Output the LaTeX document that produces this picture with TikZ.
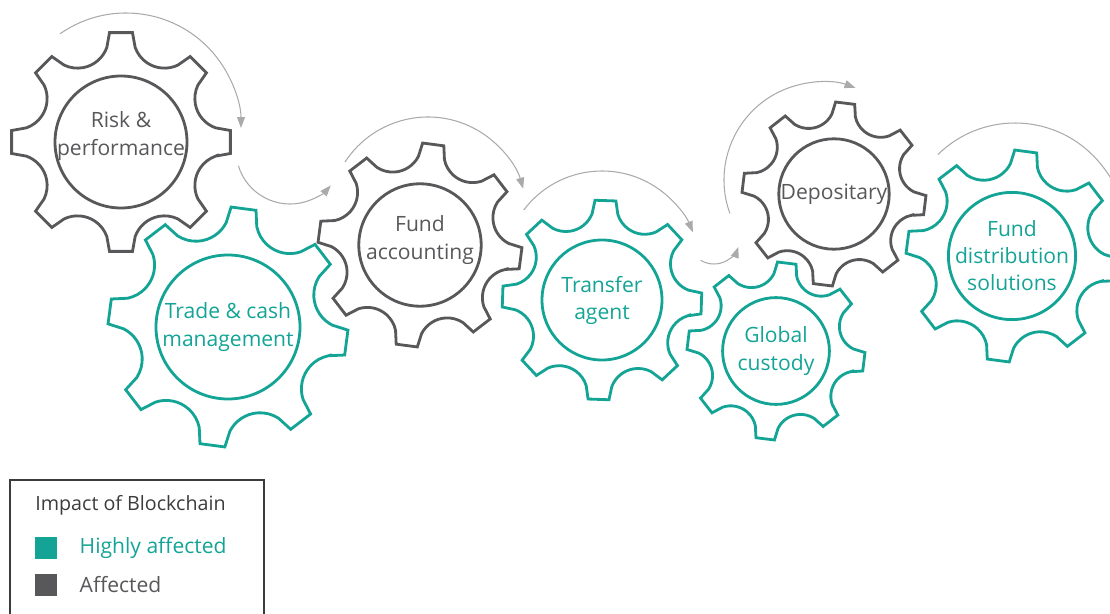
\documentclass[tikz,border=0pt]{standalone}
\usepackage{fontspec}
\setmainfont{Open Sans}
\usepackage{xcolor}
\usepackage{tikz}
\usetikzlibrary{arrows.meta, positioning}

\definecolor{hiTeal}{RGB}{20,164,150}
\definecolor{midGray}{RGB}{88,88,91}
\definecolor{turnGray}{RGB}{170,170,172}
\definecolor{boxGray}{RGB}{60,60,62}

% gear: [label options], name, centre, outer radius, turn (cw), colour, label
\newcommand{\gear}[7][]{%
	\node[hub, text=#6, #1] (#2) at (#3) {#7};
	\draw[rim, draw=#6] (#3) circle[radius={0.6*#4}];
	\begin{scope}[shift={(#3)}, rotate=-#5]
		\draw[rim, draw=#6] ({-8.5}:{0.87*#4})
			foreach \k in {0,...,7} {
				-- ({45*\k-6}:{#4}) -- ({45*\k+6}:{#4}) -- ({45*\k+8.5}:{0.87*#4})
				arc[start angle={45*\k+250.7}, end angle={45*\k+154.3}, radius={0.2824*#4}]
			} -- cycle;
	\end{scope}}

\begin{document}
\begin{tikzpicture}[x=0.02cm, y=0.02cm,
			rim/.style={line width=1.6pt},
			hub/.style={align=center, font=\fontsize{12}{15.4}\selectfont},
			turn/.style={draw=turnGray, line width=0.6pt,
				-{Triangle[length=0.22cm, width=0.16cm]}},
			swatch/.style={minimum size=0.44cm, inner sep=0pt},
			key/.style={inner sep=0pt, anchor=west,
				font=\fontsize{12}{14}\selectfont}]
	\useasboundingbox (0,0) rectangle (1110,613);
	\clip (0,0) rectangle (1110,613);
	
	% the gears
	\gear[yshift=0.12cm]{Risk}{121,471}{110}{0}{midGray}{Risk \&\\performance}
	\gear{Trade}{228,286}{120}{7.5}{hiTeal}{Trade \& cash\\management}
	\gear[yshift=0.1cm]{Accounting}{420,368}{102}{7.5}{midGray}{Fund\\accounting}
	\gear{Transfer}{602,313}{100}{2}{hiTeal}{Transfer\\agent}
	\gear{Depositary}{834,419}{92}{7}{midGray}{Depositary}
	\gear{Custody}{776,262}{89}{7}{hiTeal}{Global\\custody}
	\gear{Distribution}{1012,357}{106}{7.5}{hiTeal}{Fund\\distribution\\solutions}
	
	% turning arrows
	\coordinate (t1) at (126,485);
	\coordinate (t2) at (290,463);
	\coordinate (t3) at (428,397);
	\coordinate (t4) at (602,344);
	\coordinate (t5) at (714,375);
	\coordinate (t6) at (822,433);
	\coordinate (t7) at (1015,380);
	\draw[turn] ([shift={(125:115)}]t1) arc[start angle=125, end angle=0, radius=115];
	\draw[turn] ([shift={(197:54)}]t2) arc[start angle=197, end angle=319, radius=54];
	\draw[turn] ([shift={(147:99)}]t3) arc[start angle=147, end angle=16, radius=99];
	\draw[turn] ([shift={(143:98)}]t4) arc[start angle=143, end angle=22, radius=98];
	\draw[turn] ([shift={(239:26)}]t5) arc[start angle=239, end angle=340, radius=26];
	\draw[turn] ([shift={(200:98)}]t6) arc[start angle=200, end angle=70, radius=98];
	\draw[turn] ([shift={(134.5:110)}]t7) arc[start angle=134.5, end angle=15, radius=110];
	
	% legend
	\draw[boxGray, line width=0.6pt] (10,-10) rectangle (264,133);
	\node[key, text=boxGray, font=\fontsize{11.2}{13}\selectfont] (Title) at (35,108) {Impact of Blockchain};
	\node[swatch, fill=hiTeal] (High) at (46,65) {};
	\node[swatch, fill=midGray] (Low) at (46,28) {};
	\node[key, text=hiTeal, right=0.44cm of High] (HighText) {Highly affected};
	\node[key, text=midGray, right=0.44cm of Low] (LowText) {Affected};
\end{tikzpicture}
\end{document}
